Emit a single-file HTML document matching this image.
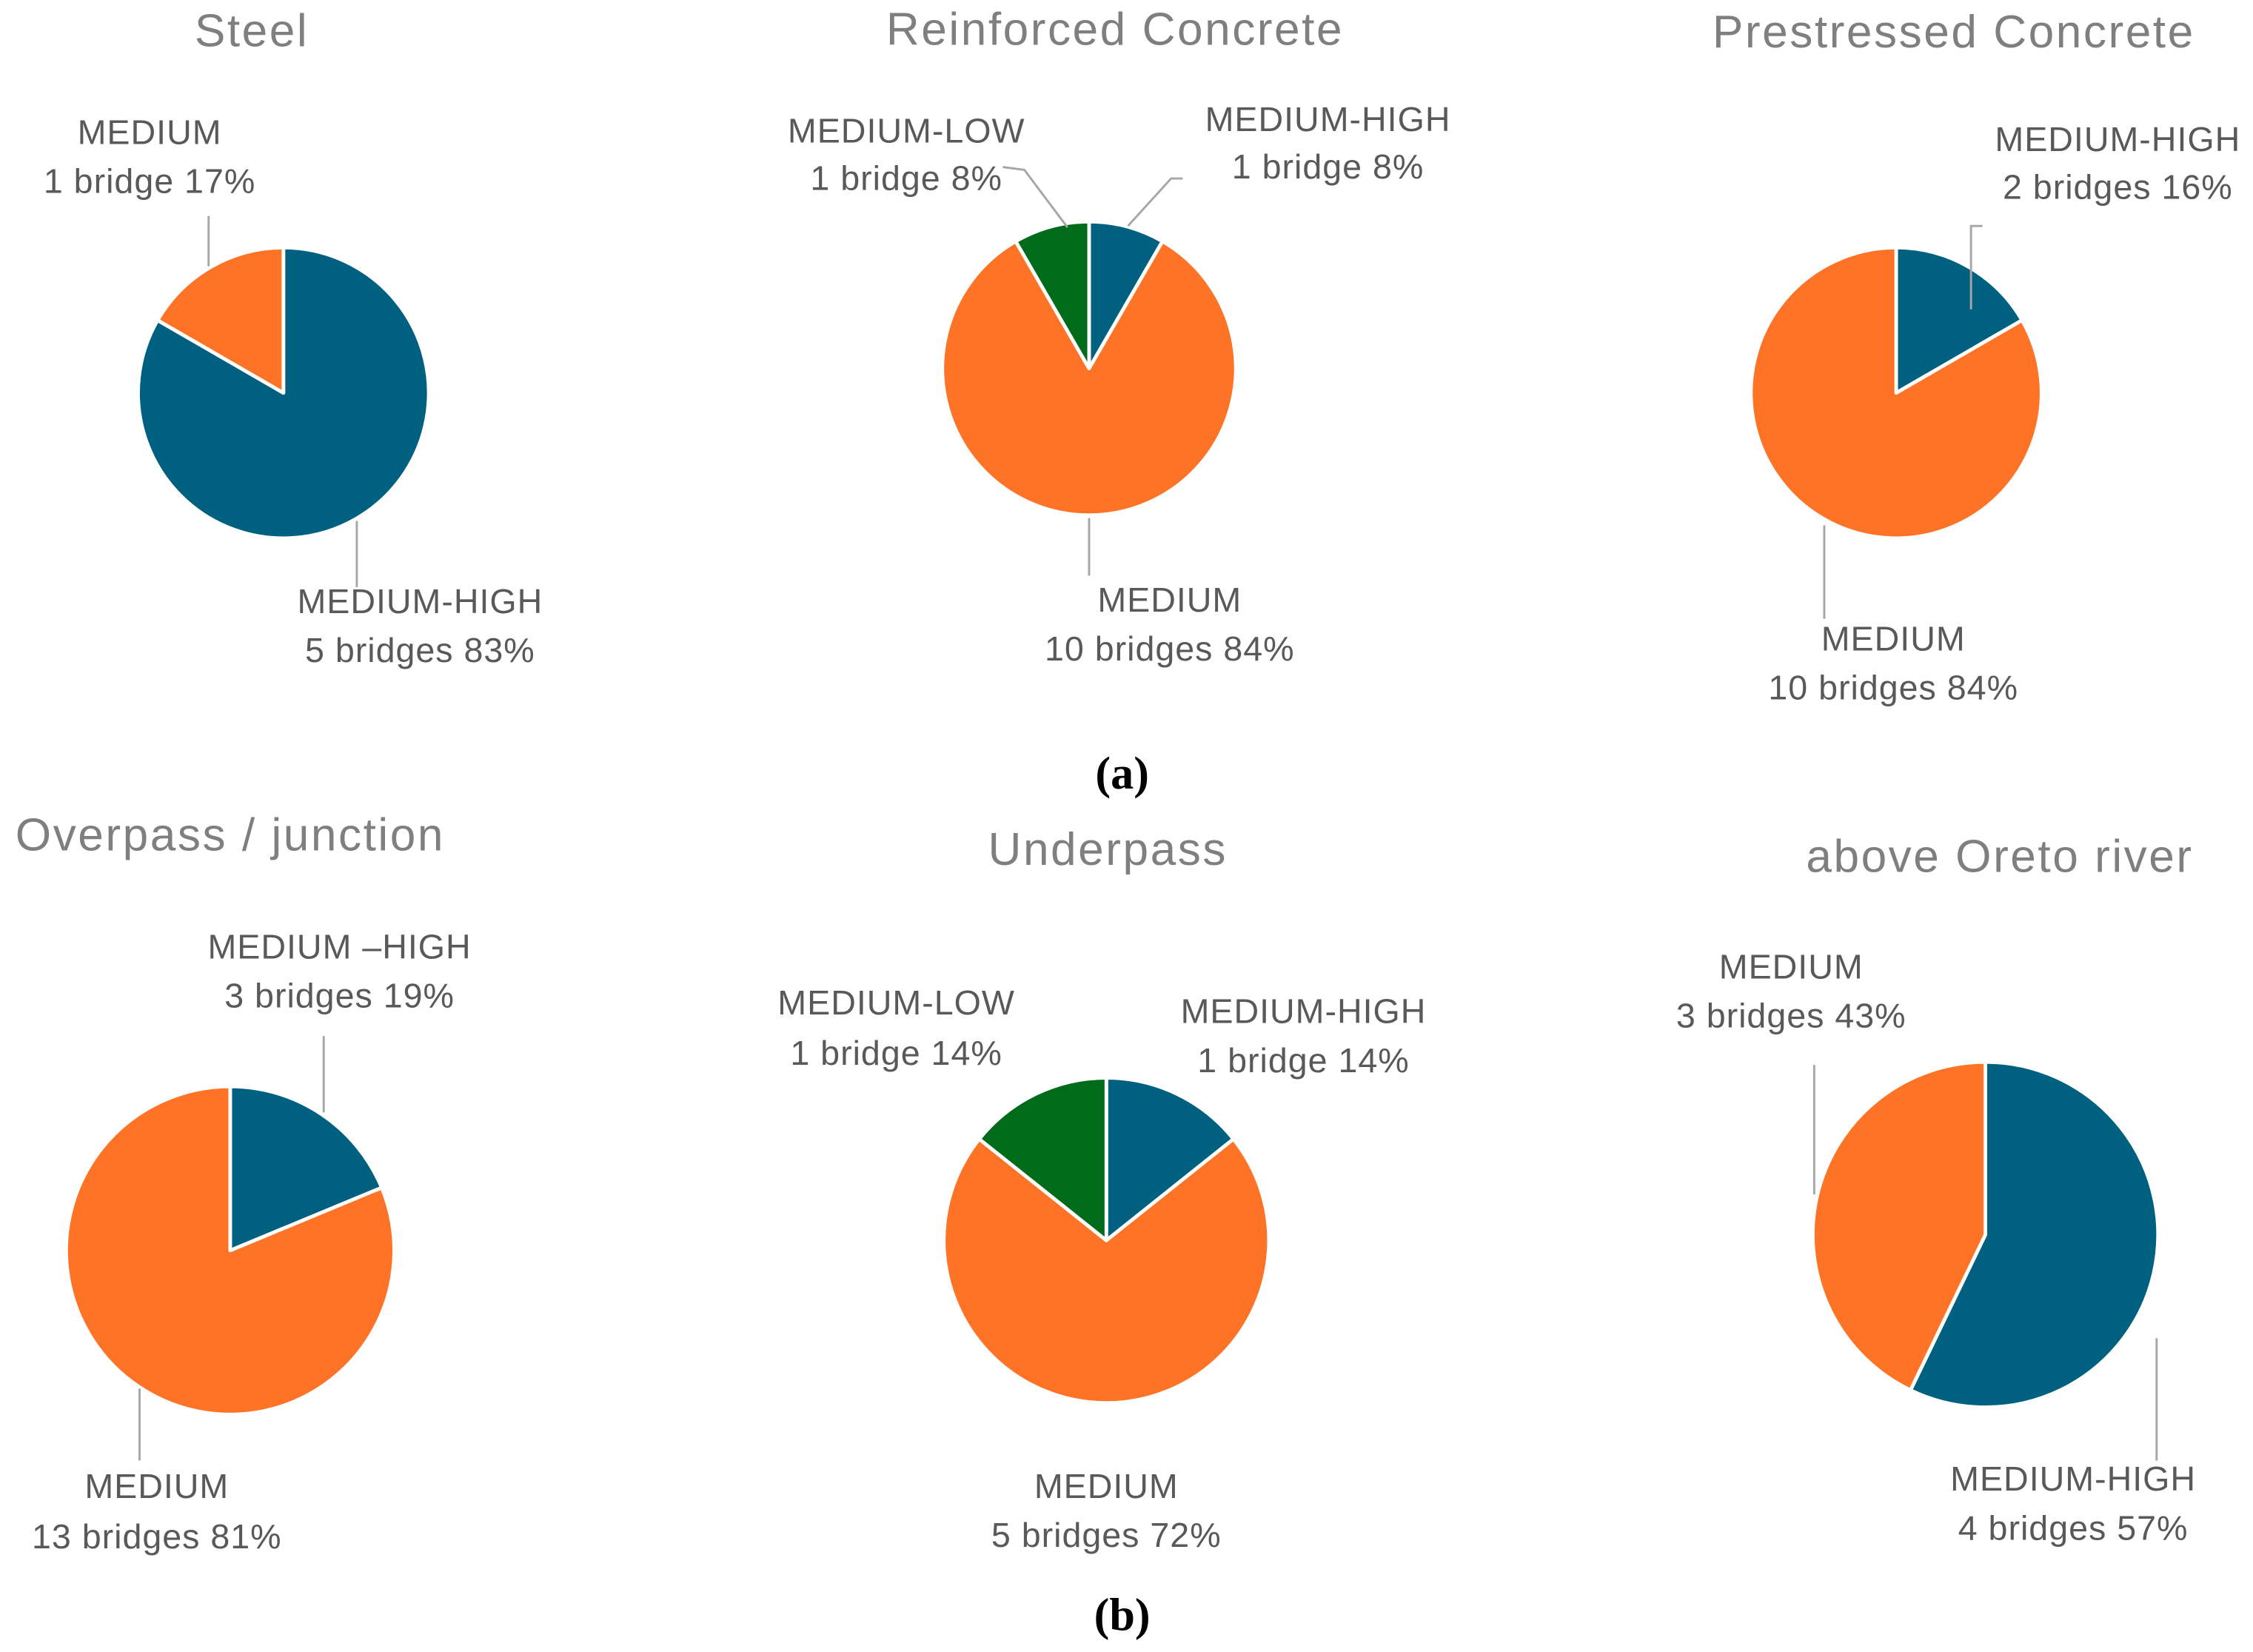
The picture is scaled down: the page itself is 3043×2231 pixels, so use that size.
<!DOCTYPE html>
<html><head><meta charset="utf-8">
<style>
html,body{margin:0;padding:0;background:#fff;}
svg{display:block;}
.t{font-family:"Liberation Sans",sans-serif;font-size:32px;letter-spacing:1.3px;fill:#7f7f7f;text-anchor:middle;}
.l{font-family:"Liberation Sans",sans-serif;font-size:24px;letter-spacing:0.5px;fill:#595959;text-anchor:middle;}
.p{font-family:"Liberation Serif",serif;font-size:32px;font-weight:bold;fill:#000;text-anchor:middle;}
.ld{stroke:#a6a6a6;stroke-width:1.5;fill:none;}
</style></head>
<body>
<svg id="chart" width="3043" height="2231" viewBox="0 0 1566 1148" xmlns="http://www.w3.org/2000/svg">
<g id="texts">
<text class="t" x="175" y="32">Steel</text>
<text class="t" x="775" y="31">Reinforced Concrete</text>
<text class="t" x="1358" y="33">Prestressed Concrete</text>
<text class="t" x="160" y="591">Overpass / junction</text>
<text class="t" x="770" y="601">Underpass</text>
<text class="t" x="1390" y="606">above Oreto river</text>
<text class="p" x="780" y="548">(a)</text>
<text class="p" x="780" y="1133">(b)</text>

<g>
<text class="l" x="104" y="100">MEDIUM</text><text class="l" x="104" y="134">1 bridge 17%</text>
<text class="l" x="292" y="426">MEDIUM-HIGH</text><text class="l" x="292" y="460">5 bridges 83%</text>
<text class="l" x="630" y="99">MEDIUM-LOW</text><text class="l" x="630" y="132">1 bridge 8%</text>
<text class="l" x="923" y="91">MEDIUM-HIGH</text><text class="l" x="923" y="124">1 bridge 8%</text>
<text class="l" x="813" y="425">MEDIUM</text><text class="l" x="813" y="459">10 bridges 84%</text>
<text class="l" x="1472" y="105">MEDIUM-HIGH</text><text class="l" x="1472" y="138">2 bridges 16%</text>
<text class="l" x="1316" y="452">MEDIUM</text><text class="l" x="1316" y="486">10 bridges 84%</text>
<text class="l" x="236" y="666">MEDIUM –HIGH</text><text class="l" x="236" y="700">3 bridges 19%</text>
<text class="l" x="109" y="1041">MEDIUM</text><text class="l" x="109" y="1076">13 bridges 81%</text>
<text class="l" x="623" y="705">MEDIUM-LOW</text><text class="l" x="623" y="740">1 bridge 14%</text>
<text class="l" x="906" y="711">MEDIUM-HIGH</text><text class="l" x="906" y="745">1 bridge 14%</text>
<text class="l" x="769" y="1041">MEDIUM</text><text class="l" x="769" y="1075">5 bridges 72%</text>
<text class="l" x="1245" y="680">MEDIUM</text><text class="l" x="1245" y="714">3 bridges 43%</text>
<text class="l" x="1441" y="1036">MEDIUM-HIGH</text><text class="l" x="1441" y="1070">4 bridges 57%</text>
</g>
<g>
<polyline class="ld" points="145,150 145,185"/>
<polyline class="ld" points="248,362 248,408"/>
<polyline class="ld" points="697,116 712,118 742,158"/>
<polyline class="ld" points="784,157 814,124 822,124"/>
<polyline class="ld" points="757,360 757,400"/>
<polyline class="ld" points="1378,157 1370,157 1370,215"/>
<polyline class="ld" points="1268,365 1268,430"/>
<polyline class="ld" points="225,720 225,773"/>
<polyline class="ld" points="97,965 97,1015"/>
<polyline class="ld" points="1261,740 1261,830"/>
<polyline class="ld" points="1499,930 1499,1015"/>
</g>
</g>
</svg>
<script>
const chartNames = ["steel","reinforced-concrete","prestressed-concrete","overpass","underpass","oreto-river"];
const steelValues = [5,1];
const rcValues = [1,10,1];
const pcValues = [2,10];
const overpassValues = [3,13];
const underpassValues = [1,5,1];
const oretoValues = [4,3];
const steelCats = ["medium-high","medium"];
const rcCats = ["medium-high","medium","medium-low"];
const pcCats = ["medium-high","medium"];
const overpassCats = ["medium-high","medium"];
const underpassCats = ["medium-high","medium","medium-low"];
const oretoCats = ["medium-high","medium"];

const colors = {"medium-high":"#00607f","medium":"#ff7327","medium-low":"#006b1b"};
const layout = [[197,273,101],[757,256,102],[1318,273,101],[160,869,114],[769,862,113],[1380,858,120]];
const allValues = [steelValues,rcValues,pcValues,overpassValues,underpassValues,oretoValues];
const allCats = [steelCats,rcCats,pcCats,overpassCats,underpassCats,oretoCats];
const NS = "http://www.w3.org/2000/svg";
const svg = document.getElementById("chart");
const texts = document.getElementById("texts");
function angleScale(v,total){return v/total*2*Math.PI;}
allValues.forEach((vals,i)=>{
  const [cx,cy,r] = layout[i];
  const g = document.createElementNS(NS,"g");
  
  
  const total = vals.reduce((a,b)=>a+b,0);
  let a0 = 0;
  vals.forEach((v,j)=>{
    const a1 = a0 + angleScale(v,total);
    const x0 = cx + r*Math.sin(a0), y0 = cy - r*Math.cos(a0);
    const x1 = cx + r*Math.sin(a1), y1 = cy - r*Math.cos(a1);
    const large = (a1-a0) > Math.PI ? 1 : 0;
    const p = document.createElementNS(NS,"path");
    p.setAttribute("d",`M${cx},${cy} L${x0},${y0} A${r},${r} 0 ${large} 1 ${x1},${y1} Z`);
    p.setAttribute("fill",colors[allCats[i][j]]);
    p.setAttribute("stroke","#fff");
    p.setAttribute("stroke-width","2.5");
    p.setAttribute("stroke-linejoin","round");
    
    
    g.appendChild(p);
    a0 = a1;
  });
  svg.insertBefore(g, texts);
});
</script>
</body></html>
